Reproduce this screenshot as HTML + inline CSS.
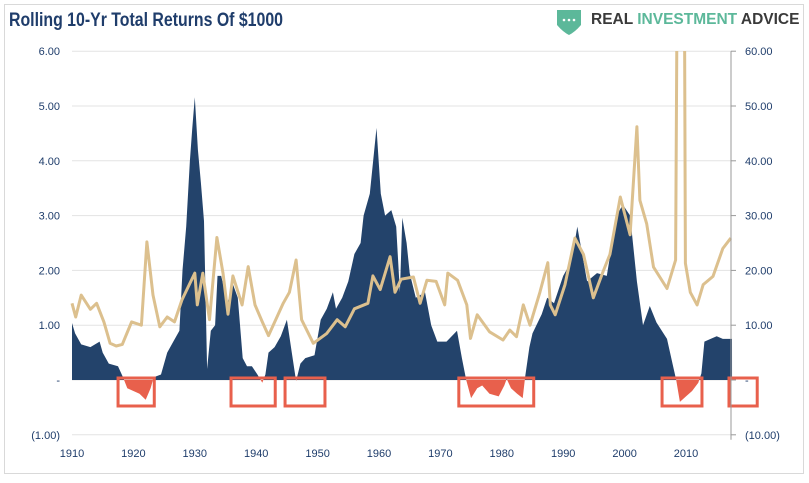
<!DOCTYPE html>
<html><head><meta charset="utf-8"><style>
html,body{margin:0;padding:0;background:#fff;}
body{width:809px;height:478px;overflow:hidden;font-family:"Liberation Sans",sans-serif;}
</style></head><body>
<svg id="chart" width="809" height="478" xmlns="http://www.w3.org/2000/svg">
<rect x="4.5" y="4.5" width="799" height="469" fill="#fff" stroke="#d9d9d9"/>
<text x="9" y="26" font-size="19" font-weight="bold" fill="#1f3d6b" textLength="274" lengthAdjust="spacingAndGlyphs">Rolling 10-Yr Total Returns Of $1000</text>
<g>
<path d="M557 10 L581 10 L581 25 Q575 32 569 35 Q563 32 557 25 Z" fill="#5cb89a"/>
<circle cx="564" cy="20" r="1.3" fill="#fff"/><circle cx="569" cy="20" r="1.3" fill="#fff"/><circle cx="574" cy="20" r="1.3" fill="#fff"/>
<text x="591" y="24" font-size="15.5" font-weight="bold" fill="#3a3a3a">REAL <tspan fill="#5cb89a">INVESTMENT</tspan> ADVICE</text>
</g>
<g id="grid"></g>
<defs>
<clipPath id="posClip"><rect x="60" y="40" width="680" height="340"/></clipPath>
<clipPath id="negClip"><rect x="60" y="380" width="680" height="60"/></clipPath>
<clipPath id="plotClip"><rect x="60" y="51" width="680" height="390"/></clipPath>
</defs>
<g id="bars"></g>
<g id="line" clip-path="url(#plotClip)"></g>
<g id="boxes"></g>
<g id="axes"></g>
</svg>
<script>
const barYears=[1910,1910.5,1911.5,1913,1914.5,1915,1916,1917.5,1918.3,1919,1920,1921,1922,1922.8,1923.3,1924.5,1925.5,1926.5,1927.5,1928,1928.6,1929.2,1929.6,1930,1930.5,1931,1931.5,1932,1932.6,1933.3,1933.7,1934.3,1935.3,1936.2,1937,1937.8,1938.5,1939.3,1940.2,1941,1941.5,1942,1943,1944,1945,1945.8,1946.5,1947.2,1948,1949.5,1950.5,1951.5,1952.5,1953,1954,1955,1956,1957,1957.5,1958.5,1959.6,1960.3,1961,1962,1962.8,1963.4,1963.8,1964.5,1965,1966,1967.5,1968.5,1969.5,1971,1972.7,1973.5,1974.2,1975,1976,1976.8,1978,1979.5,1980.4,1980.8,1981.5,1982.5,1983.4,1983.8,1984.5,1985,1986.5,1987.4,1988.5,1990,1991,1992,1992.3,1993.9,1995.5,1997.1,1998.7,1999.7,2000.9,2002,2003,2004.1,2005.2,2006.9,2007.9,2008.4,2009,2010,2011,2012,2012.5,2013,2014,2015,2016,2017.5];
const barValues=[1.04,0.85,0.65,0.6,0.7,0.5,0.3,0.25,0.05,-0.15,-0.2,-0.25,-0.36,-0.15,0.05,0.1,0.5,0.7,0.9,2.0,2.8,4.0,4.6,5.16,4.2,3.6,2.9,0.2,0.9,1.0,1.9,1.9,1.4,1.75,1.5,0.4,0.25,0.25,0.1,-0.05,0.1,0.5,0.6,0.8,1.1,0.5,-0.02,0.3,0.4,0.45,1.1,1.3,1.6,1.3,1.5,1.8,2.3,2.5,3.0,3.4,4.6,3.4,3.0,3.1,2.8,1.6,2.96,2.5,1.95,1.5,1.6,1.0,0.7,0.7,0.9,0.4,0.0,-0.33,-0.15,-0.1,-0.25,-0.3,-0.1,0.02,-0.15,-0.25,-0.33,0.05,0.6,0.85,1.2,1.5,1.4,1.9,2.1,2.6,2.8,1.8,1.95,1.9,3.0,3.2,3.0,1.8,1.0,1.35,1.05,0.75,0.25,0,-0.4,-0.3,-0.2,-0.05,0.12,0.7,0.75,0.8,0.75,0.75];
const lineYears=[1910,1910.6,1911.5,1913,1914,1915.2,1916.2,1917.2,1918.2,1919.7,1921.3,1922.2,1923.2,1924.3,1925.5,1926.7,1927.9,1930,1930.4,1931.3,1932.4,1933.6,1934.6,1935.4,1936.2,1937.7,1938.7,1939.8,1941,1942,1944.4,1945.4,1946.5,1947.4,1949.3,1951.5,1953.2,1954.5,1956,1958.2,1959,1960.2,1961.8,1962.6,1963.6,1965.6,1966.7,1967.8,1969.3,1970.7,1971.2,1972.8,1974.3,1974.9,1976,1978,1980.2,1981.3,1982.4,1983.5,1984.6,1986.2,1987.5,1987.9,1988.7,1990.3,1991.9,1993.3,1994.9,1996.5,1997.6,1999.3,2000.9,2002,2002.5,2003.6,2004.7,2006.9,2008.3,2008.8,2009.6,2009.9,2010.7,2011.8,2012.8,2014.4,2016,2017.3];
const lineValues=[14,11.5,15.5,12.9,14,10.6,6.7,6.2,6.5,10.6,10,25.2,15.5,9.7,11.5,10.6,14.6,19.5,13.7,19.5,11,26,19.5,12,19,13.7,20.7,13.7,10.6,8.1,14,16,21.9,11,6.7,8.5,11,9.7,13,14,19,16.5,22.5,16,18.4,18.8,14,18.2,18,13.7,19.5,18.2,13.7,7.6,11.9,8.8,7.3,9.1,7.9,13.7,10,16,21.4,13.7,11.9,17.4,25.9,22.9,15,19.8,22.9,33.4,26.5,46.2,32.8,28.5,20.6,16.7,21.9,120,120,21.3,16,13.7,17.4,18.9,24,25.9];
const leftTicks=[6,5,4,3,2,1,0,-1];
const leftTickLabels=["6.00","5.00","4.00","3.00","2.00","1.00","-","(1.00)"];
const rightTicks=[60,50,40,30,20,10,0,-10];
const rightTickLabels=["60.00","50.00","40.00","30.00","20.00","10.00","-","(10.00)"];
const xTicks=[1910,1920,1930,1940,1950,1960,1970,1980,1990,2000,2010];
const highlightStarts=[1917.5,1935.9,1944.7,1973.0,2006.1,2017.0];
const highlightEnds=[1923.4,1943.1,1951.2,1985.2,2012.6,2021.6];

const NS="http://www.w3.org/2000/svg";
const X0=72,PX_YR=6.14,Y0=380,PX_L=54.8,PX_R=5.48;
const xS=y=>X0+(y-1910)*PX_YR;
const yL=v=>Y0-v*PX_L;
const yR=v=>Y0-v*PX_R;
function mk(tag,attrs,parent){const e=document.createElementNS(NS,tag);for(const k in attrs)e.setAttribute(k,attrs[k]);parent.appendChild(e);return e;}
const grid=document.getElementById('grid'),axes=document.getElementById('axes');
leftTicks.forEach((t,i)=>{
  const gl=mk('line',{x1:X0,x2:731,y1:yL(t),y2:yL(t),stroke:'#e3e3e3','stroke-width':1},grid);
  
  
  const lt=mk('text',{x:60,y:yL(t)+4,'text-anchor':'end','font-size':11,fill:'#1f3d6b'},axes);
  lt.textContent=leftTickLabels[i];
  
  
});
rightTicks.forEach((t,i)=>{
  const rt=mk('text',{x:745,y:yR(t)+4,'font-size':11,fill:'#1f3d6b'},axes);
  rt.textContent=rightTickLabels[i];
  
  
  const tk=mk('line',{x1:731,x2:736,y1:yR(t),y2:yR(t),stroke:'#999'},axes);
  
  
});
const ra=mk('line',{x1:731,x2:731,y1:yR(60),y2:yR(-10)+5,stroke:'#999'},axes);


xTicks.forEach(t=>{
  const xt=mk('text',{x:xS(t),y:457,'text-anchor':'middle','font-size':11,fill:'#1f3d6b'},axes);
  xt.textContent=String(t);
  
  
});
let d='M'+xS(barYears[0])+','+Y0;
barYears.forEach((yr,i)=>{d+=' L'+xS(yr).toFixed(1)+','+yL(barValues[i]).toFixed(1);});
d+=' L'+xS(barYears[barYears.length-1])+','+Y0+' Z';
const bars=document.getElementById('bars');
const pos=mk('path',{d:d,fill:'#23436b','clip-path':'url(#posClip)'},bars);


const neg=mk('path',{d:d,fill:'#e8604c','clip-path':'url(#negClip)'},bars);


const pts=lineYears.map((yr,i)=>xS(yr).toFixed(1)+','+yR(lineValues[i]).toFixed(1)).join(' ');
const ln=mk('polyline',{points:pts,fill:'none',stroke:'#dcc08e','stroke-width':3,'stroke-linejoin':'round'},document.getElementById('line'));


const boxes=document.getElementById('boxes');
highlightStarts.forEach((s,i)=>{
  const b=mk('rect',{x:xS(s),y:378,width:xS(highlightEnds[i])-xS(s),height:28,fill:'none',stroke:'#e8604c','stroke-width':3},boxes);
  
  
});
</script>
</body></html>
